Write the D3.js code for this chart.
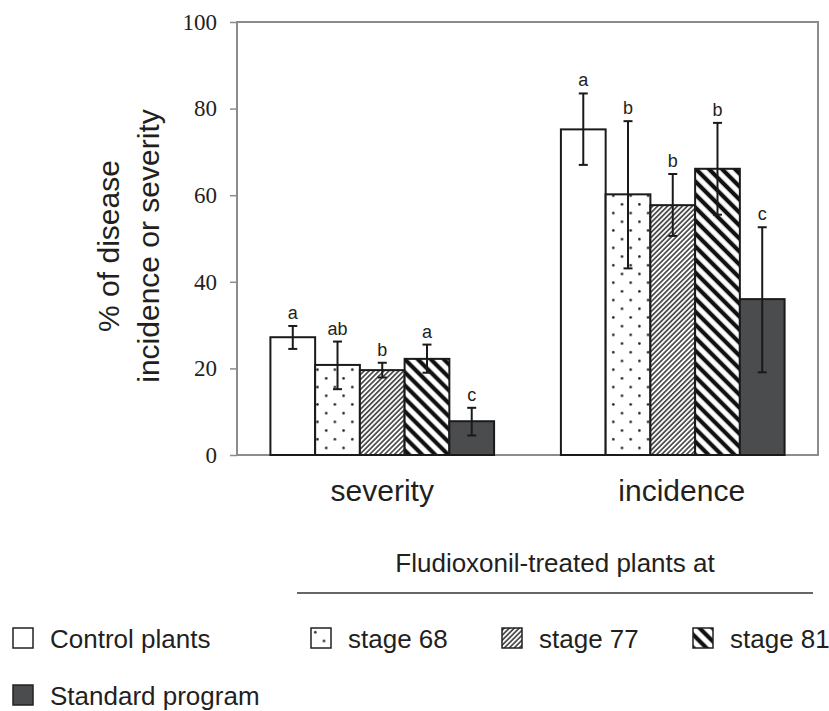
<!DOCTYPE html>
<html lang="en">
<head>
<meta charset="UTF-8">
<title>Disease incidence and severity</title>
<script src="https://d3js.org/d3.v7.min.js"></script>
<style>
    body { margin: 0; background: #fff; }
    svg text { fill: #231f20; }
    .sans { font-family: "Liberation Sans", Arial, sans-serif; }
    .tick text { font-family: "Liberation Serif", "Times New Roman", serif; font-size: 23px; }
</style>
</head>
<body>
<div id="chart"></div>
<script>
    // data
    const categories = ["severity", "incidence"];
    const series = ["Control plants", "stage 68", "stage 77", "stage 81", "Standard program"];
    const severityMeans = [27.2, 20.8, 19.6, 22.2, 7.8];
    const severityLow = [24.5, 15.2, 17.9, 19.0, 4.5];
    const severityHigh = [29.8, 26.2, 21.3, 25.5, 10.9];
    const severityLetters = ["a", "ab", "b", "a", "c"];
    const incidenceMeans = [75.2, 60.2, 57.7, 66.1, 36.0];
    const incidenceLow = [67.0, 43.1, 50.6, 55.5, 19.1];
    const incidenceHigh = [83.5, 77.1, 64.9, 76.7, 52.6];
    const incidenceLetters = ["a", "b", "b", "b", "c"];
    const yTicks = [0, 20, 40, 60, 80, 100];

    const rows = [];
    categories.forEach((cat, ci) => {
        const m = ci === 0 ? severityMeans : incidenceMeans;
        const lo = ci === 0 ? severityLow : incidenceLow;
        const hi = ci === 0 ? severityHigh : incidenceHigh;
        const let_ = ci === 0 ? severityLetters : incidenceLetters;
        series.forEach((s, si) => {
            rows.push({ cat, s, si, value: m[si], lo: lo[si], hi: hi[si], letter: let_[si] });
        });
    });

    const width = 829, height = 711;
    const plot = { left: 237, right: 818, top: 22, bottom: 455 };

    const svg = d3.select("#chart").append("svg")
        .attr("width", width)
        .attr("height", height);

    // fill patterns
    const defs = svg.append("defs");
    const dots = defs.append("pattern").attr("id", "dots")
        .attr("patternUnits", "userSpaceOnUse").attr("width", 17.4).attr("height", 17.4);
    dots.append("rect").attr("width", 17.4).attr("height", 17.4).attr("fill", "#fff");
    dots.append("circle").attr("cx", 4.3).attr("cy", 4.3).attr("r", 1.3).attr("fill", "#222");
    dots.append("circle").attr("cx", 13).attr("cy", 13).attr("r", 1.3).attr("fill", "#222");

    const fine = defs.append("pattern").attr("id", "fine")
        .attr("patternUnits", "userSpaceOnUse").attr("width", 3.5).attr("height", 10)
        .attr("patternTransform", "rotate(45)");
    fine.append("rect").attr("width", 3.5).attr("height", 10).attr("fill", "#fff");
    fine.append("line").attr("x1", 1.75).attr("x2", 1.75).attr("y1", 0).attr("y2", 10)
        .attr("stroke", "#222").attr("stroke-width", 1.4);

    const thick = defs.append("pattern").attr("id", "thick")
        .attr("patternUnits", "userSpaceOnUse").attr("width", 9.2).attr("height", 20)
        .attr("patternTransform", "rotate(-45)");
    thick.append("rect").attr("width", 9.2).attr("height", 20).attr("fill", "#fff");
    thick.append("line").attr("x1", 4.6).attr("x2", 4.6).attr("y1", 0).attr("y2", 20)
        .attr("stroke", "#111").attr("stroke-width", 4.2);

    const fills = ["#fff", "url(#dots)", "url(#fine)", "url(#thick)", "#4b4c4e"];

    const x0 = d3.scaleBand().domain(categories).range([plot.left, plot.right]);
    const bw = x0.bandwidth();
    const x1 = d3.scaleBand().domain(series).range([bw * 0.115, bw * 0.885]);
    const y = d3.scaleLinear().domain([0, 100]).range([plot.bottom, plot.top]);

    // frame
    svg.append("rect")
        .attr("x", plot.left).attr("y", plot.top)
        .attr("width", plot.right - plot.left).attr("height", plot.bottom - plot.top)
        .attr("fill", "none").attr("stroke", "#8c8c8c").attr("stroke-width", 2);

    const yAxis = svg.append("g")
        .attr("transform", `translate(${plot.left},0)`)
        .call(d3.axisLeft(y).tickValues(yTicks).tickSize(7).tickPadding(13));
    yAxis.select(".domain").remove();
    yAxis.selectAll(".tick line").attr("stroke", "#8c8c8c").attr("stroke-width", 1.5);

    // bars
    svg.append("g").selectAll("rect")
        .data(rows)
        .join("rect")
        .attr("x", d => x0(d.cat) + x1(d.s))
        .attr("y", d => y(d.value))
        .attr("width", x1.bandwidth())
        .attr("height", d => y(0) - y(d.value))
        .attr("fill", d => fills[d.si])
        .attr("stroke", "#1a1a1a")
        .attr("stroke-width", 2);

    // error bars
    const eb = svg.append("g").attr("stroke", "#1a1a1a").attr("stroke-width", 2);
    const cx = d => x0(d.cat) + x1(d.s) + x1.bandwidth() / 2;
    eb.selectAll(".stem").data(rows).join("line")
        .attr("x1", cx).attr("x2", cx)
        .attr("y1", d => y(d.lo)).attr("y2", d => y(d.hi));
    eb.selectAll(".capHi").data(rows).join("line")
        .attr("x1", d => cx(d) - 4.5).attr("x2", d => cx(d) + 4.5)
        .attr("y1", d => y(d.hi)).attr("y2", d => y(d.hi));
    eb.selectAll(".capLo").data(rows).join("line")
        .attr("x1", d => cx(d) - 4.5).attr("x2", d => cx(d) + 4.5)
        .attr("y1", d => y(d.lo)).attr("y2", d => y(d.lo));

    // significance letters
    svg.append("g").selectAll("text")
        .data(rows)
        .join("text")
        .attr("class", "sans")
        .attr("x", cx)
        .attr("y", d => y(d.hi) - 7)
        .attr("text-anchor", "middle")
        .attr("font-size", 18)
        .text(d => d.letter);

    // category labels
    const labelShift = [0, 9];
    svg.append("g").selectAll("text")
        .data(categories)
        .join("text")
        .attr("class", "sans")
        .attr("x", (d, i) => x0(d) + bw / 2 + labelShift[i])
        .attr("y", 501)
        .attr("text-anchor", "middle")
        .attr("font-size", 30)
        .text(d => d);

    // y axis title
    const yt = svg.append("text")
        .attr("class", "sans")
        .attr("transform", "translate(119,246) rotate(-90)")
        .attr("text-anchor", "middle")
        .attr("font-size", 30);
    yt.append("tspan").attr("x", 0).attr("y", 0).text("% of disease");
    yt.append("tspan").attr("x", 0).attr("y", 40).text("incidence or severity");

    // legend
    const lg = svg.append("g").attr("class", "sans");
    lg.append("text").attr("x", 555).attr("y", 572).attr("text-anchor", "middle")
        .attr("font-size", 26).text("Fludioxonil-treated plants at");
    lg.append("line").attr("x1", 297).attr("x2", 813).attr("y1", 593).attr("y2", 593)
        .attr("stroke", "#333").attr("stroke-width", 1.5);

    const legendPos = [
        { x: 13, y: 628 }, { x: 311, y: 628 }, { x: 502, y: 628 },
        { x: 693, y: 628 }, { x: 13, y: 685 }
    ];
    const items = lg.selectAll("g.item")
        .data(series)
        .join("g")
        .attr("class", "item")
        .attr("transform", (d, i) => `translate(${legendPos[i].x},${legendPos[i].y})`);
    items.append("rect")
        .attr("width", 20).attr("height", 20)
        .attr("fill", (d, i) => fills[i])
        .attr("stroke", "#222").attr("stroke-width", 1.5);
    items.append("text")
        .attr("x", 37).attr("y", 20)
        .attr("font-size", 26)
        .text(d => d);
</script>
</body>
</html>
